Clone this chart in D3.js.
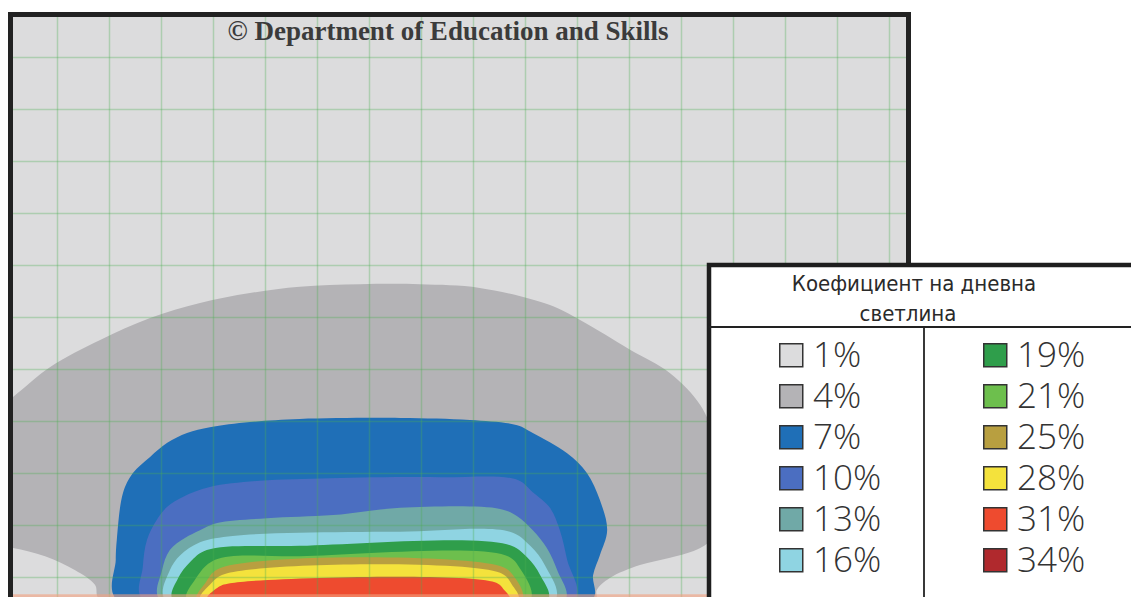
<!DOCTYPE html>
<html>
<head>
<meta charset="utf-8">
<script src="https://cdn.jsdelivr.net/npm/d3@7"></script>
<style>
  body { margin: 0; background: #fff; }
  #chartContainer { width: 1131px; height: 597px; overflow: hidden; }
</style>
</head>
<body>
<div id="chartContainer"></div>
<script>
// Daylight factor levels (legend) and their palette
const levels = [1, 4, 7, 10, 13, 16, 19, 21, 25, 28, 31, 34];
const palette = ["#dcdcdd", "#b4b3b6", "#1f6fb7", "#4b6ec1", "#70a9a7", "#8fd4e2",
                 "#2f9e4b", "#6dbf4d", "#b89f40", "#f4e23c", "#ee4b2f", "#b0292d"];
const legendTitle = ["Коефициент на дневна", "светлина"];
const copyright = "© Department of Education and Skills";

// Contour boundaries, in grid cells [x, y] (one cell per grid square)
const contour4 = [[0.83, 10.44], [0.73, 10.15], [0.35, 9.87], [-0.23, 9.60], [-0.85, 9.44], [-1.3, 9.38],
  [-1.3, 6.88], [-0.85, 6.54], [-0.13, 5.96], [0.83, 5.44], [1.79, 5.02], [2.75, 4.73], [3.71, 4.54],
  [4.67, 4.42], [5.83, 4.37], [6.98, 4.37], [8.13, 4.44], [9.48, 4.77], [10.06, 5.06], [11.02, 5.63],
  [11.79, 6.08], [12.37, 6.69], [12.65, 7.37], [12.75, 8.33], [12.65, 9.19], [12.37, 9.44], [11.79, 9.63],
  [11.21, 9.77], [10.63, 10.02], [10.38, 10.25], [10.35, 10.44]];
const contour7 = [[1.15, 10.44], [1.13, 9.67], [1.15, 9.29], [1.27, 8.38], [1.46, 8.00], [1.79, 7.69],
  [2.12, 7.42], [2.50, 7.23], [2.94, 7.12], [3.71, 7.02], [4.67, 6.96], [6.60, 6.94], [7.94, 6.98],
  [8.85, 7.08], [9.15, 7.23], [9.81, 7.62], [10.19, 8.00], [10.44, 8.52], [10.58, 9.10], [10.44, 9.58],
  [10.31, 9.96], [10.29, 10.44]];
const contour10 = [[1.65, 10.44], [1.65, 9.81], [1.73, 9.29], [1.92, 8.90], [2.12, 8.65], [2.42, 8.46],
  [2.94, 8.27], [3.90, 8.15], [5.25, 8.10], [7.37, 8.08], [8.85, 8.13], [9.15, 8.37], [9.48, 8.67],
  [9.67, 9.10], [9.81, 9.67], [9.96, 10.44]];
const contour13 = [[1.98, 10.44], [2.02, 9.87], [2.17, 9.48], [2.46, 9.25], [2.75, 9.10], [3.08, 8.96],
  [4.04, 8.87], [5.31, 8.81], [6.60, 8.67], [8.52, 8.69], [8.85, 8.83], [9.15, 9.10], [9.42, 9.44],
  [9.62, 9.87], [9.77, 10.44]];
const contour16 = [[2.08, 10.44], [2.17, 9.87], [2.37, 9.58], [2.75, 9.33], [3.38, 9.21], [4.67, 9.15],
  [6.60, 9.13], [8.71, 9.13], [9.10, 9.40], [9.38, 9.77], [9.58, 10.44]];
const contour19 = [[2.23, 10.44], [2.33, 10.02], [2.56, 9.71], [2.88, 9.48], [4.67, 9.40], [8.65, 9.37],
  [9.04, 9.62], [9.29, 9.96], [9.44, 10.44]];
const contour21 = [[2.50, 10.44], [2.65, 10.06], [3.04, 9.67], [4.67, 9.60], [8.62, 9.58], [8.90, 9.83],
  [9.10, 10.44]];
const contour25 = [[2.69, 10.44], [2.85, 10.12], [3.13, 9.83], [8.52, 9.79], [8.81, 10.02], [8.94, 10.44]];
const contour28 = [[2.75, 10.44], [2.94, 10.15], [3.23, 9.94], [8.52, 9.92], [8.75, 10.15], [8.87, 10.44]];
const contour31 = [[2.88, 10.44], [3.08, 10.21], [3.33, 10.12], [8.42, 10.10], [8.60, 10.25], [8.71, 10.44]];

const contours = [
  {level: 4, points: contour4}, {level: 7, points: contour7}, {level: 10, points: contour10},
  {level: 13, points: contour13}, {level: 16, points: contour16}, {level: 19, points: contour19},
  {level: 21, points: contour21}, {level: 25, points: contour25}, {level: 28, points: contour28},
  {level: 31, points: contour31}
];

const width = 1131, height = 597;
// plot frame (inner edges)
const frameLeft = 13, frameTop = 17, frameRight = 906, frameBottom = 620;

const x = d3.scaleLinear([0, 16], [57, 889]);
const y = d3.scaleLinear([0, 10], [57, 577]);
const color = d3.scaleOrdinal(levels, palette);

const svg = d3.create("svg")
  .attr("width", width)
  .attr("height", height)
  .attr("viewBox", [0, 0, width, height]);

svg.append("clipPath").attr("id", "plotClip")
  .append("rect")
  .attr("x", frameLeft).attr("y", frameTop)
  .attr("width", frameRight - frameLeft).attr("height", frameBottom - frameTop);

const plot = svg.append("g").attr("clip-path", "url(#plotClip)");

// 1% background
plot.append("rect")
  .attr("x", frameLeft).attr("y", frameTop)
  .attr("width", frameRight - frameLeft).attr("height", frameBottom - frameTop)
  .attr("fill", color(1));

const area = d3.line()
  .x(d => x(d[0]))
  .y(d => y(d[1]))
  .curve(d3.curveCatmullRomClosed.alpha(0.5));

plot.selectAll("path.contour")
  .data(contours)
  .join("path")
  .attr("class", "contour")
  .attr("fill", d => color(d.level))
  .attr("d", d => area(d.points));

// grid
const gridColor = "#4caf50";
plot.append("g")
  .attr("transform", `translate(0,${frameBottom})`)
  .call(d3.axisBottom(x).tickValues(d3.range(0, 17)).tickSize(-(frameBottom - frameTop)).tickFormat(""))
  .call(g => g.select(".domain").remove())
  .call(g => g.selectAll(".tick line").attr("stroke", gridColor).attr("stroke-opacity", 0.32).attr("stroke-width", 1.5));

plot.append("g")
  .attr("transform", `translate(${frameLeft},0)`)
  .call(d3.axisLeft(y).tickValues(d3.range(0, 11)).tickSize(-(frameRight - frameLeft)).tickFormat(""))
  .call(g => g.select(".domain").remove())
  .call(g => g.selectAll(".tick line").attr("stroke", gridColor).attr("stroke-opacity", 0.32).attr("stroke-width", 1.5));

// faint window edge along the bottom
plot.append("line")
  .attr("x1", frameLeft).attr("x2", frameRight)
  .attr("y1", y(10.36)).attr("y2", y(10.36))
  .attr("stroke", "#f3a07e").attr("stroke-opacity", 0.6).attr("stroke-width", 3);

// copyright
svg.append("text")
  .attr("x", 448).attr("y", 40)
  .attr("text-anchor", "middle")
  .attr("font-family", "'Liberation Serif', 'DejaVu Serif', serif")
  .attr("font-weight", "bold")
  .attr("font-size", 27)
  .attr("fill", "#3b3b3b")
  .text(copyright);

// frame
svg.append("path")
  .attr("fill", "none")
  .attr("stroke", "#222")
  .attr("stroke-width", 5)
  .attr("d", `M${frameLeft - 2.5},${frameBottom} V${frameTop - 2.5} H${frameRight + 2.5} V${frameBottom}`);

// legend box
const lg = {left: 709, top: 265, header: 327, divider: 924};
svg.append("rect")
  .attr("x", lg.left).attr("y", lg.top)
  .attr("width", width - lg.left + 10).attr("height", height - lg.top + 10)
  .attr("fill", "#fff")
  .attr("stroke", "#1e1e1e")
  .attr("stroke-width", 4.5);

svg.append("line")
  .attr("x1", lg.left).attr("x2", width)
  .attr("y1", lg.header).attr("y2", lg.header)
  .attr("stroke", "#222").attr("stroke-width", 1.8);

svg.append("line")
  .attr("x1", lg.divider).attr("x2", lg.divider)
  .attr("y1", lg.header).attr("y2", height)
  .attr("stroke", "#222").attr("stroke-width", 1.8);

svg.append("g")
  .attr("font-family", "'DejaVu Sans Condensed', 'Liberation Sans Narrow', sans-serif")
  .attr("font-size", 22)
  .attr("fill", "#2a2a2a")
  .attr("text-anchor", "middle")
  .selectAll("text")
  .data(legendTitle)
  .join("text")
  .attr("x", (d, i) => i === 0 ? 914 : 908)
  .attr("y", (d, i) => 291 + i * 30)
  .text(d => d);

const rows = d3.scaleBand(d3.range(6), [343, 343 + 6 * 41]);
const cols = [779, 983];

const item = svg.append("g")
  .selectAll("g")
  .data(levels)
  .join("g")
  .attr("transform", (d, i) => `translate(${cols[Math.floor(i / 6)]},${rows(i % 6)})`);

item.append("rect")
  .attr("x", 0.75).attr("y", 0.75)
  .attr("width", 23).attr("height", 23)
  .attr("fill", d => color(d))
  .attr("stroke", "#333")
  .attr("stroke-width", 1.5);

item.append("text")
  .attr("x", 34).attr("y", 24)
  .attr("font-family", "'Open Sans', sans-serif")
  .attr("font-weight", 300)
  .attr("font-size", 35)
  .attr("fill", "#333")
  .text(d => d + "%");

document.getElementById("chartContainer").append(svg.node());
</script>
</body>
</html>
